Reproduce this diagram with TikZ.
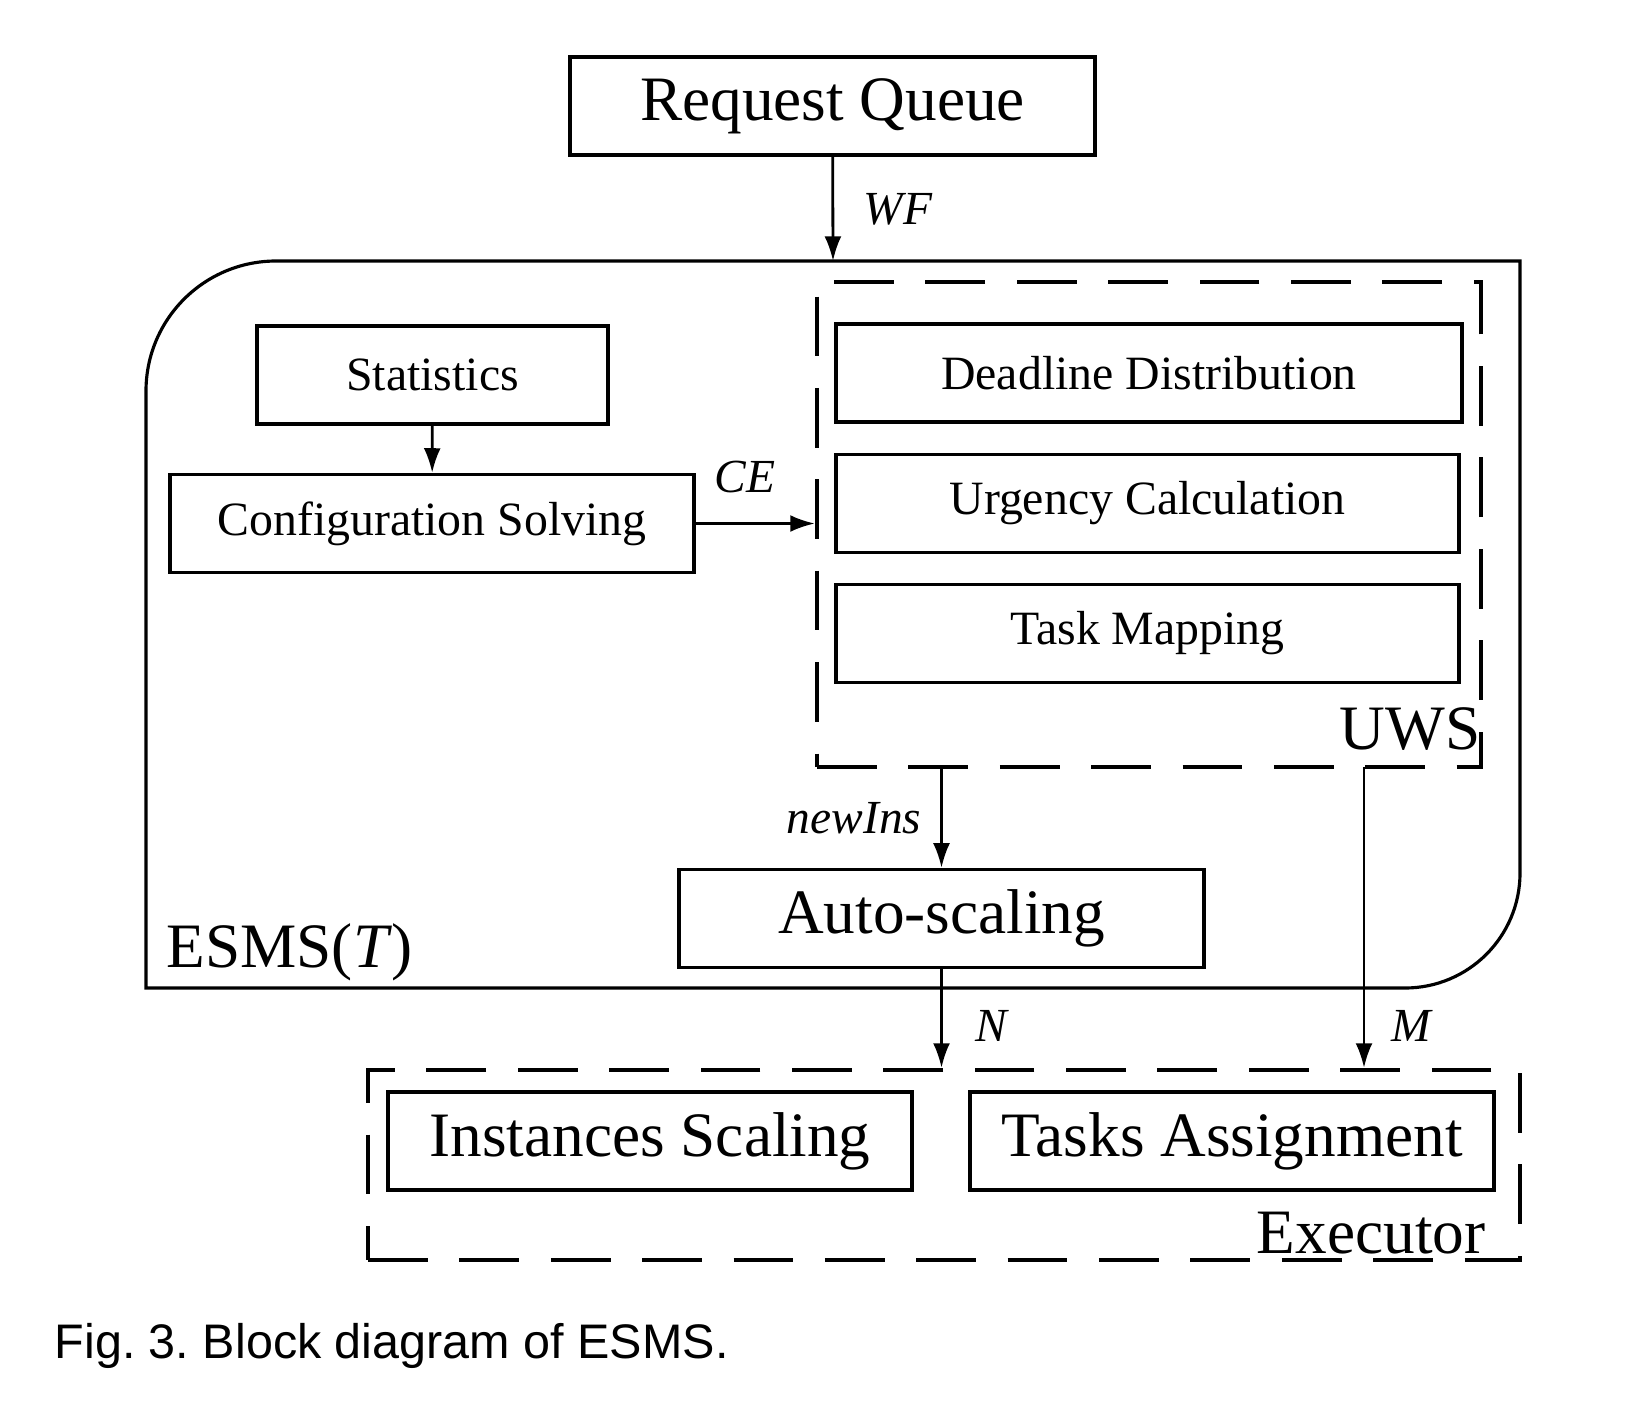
\documentclass[tikz,border=0pt]{standalone}
\usepackage{fontspec}
\setmainfont{Liberation Serif}
\newfontfamily\captionfont{Liberation Sans}
\usetikzlibrary{arrows.meta, positioning}

\tikzset{
  block/.style={draw, line width=0.95pt, inner sep=0pt, minimum height=0.98cm, font=\fontsize{13.6}{16}\selectfont},
  bigblock/.style={block, font=\fontsize{18}{22}\selectfont},
  group/.style={draw, line width=1.2pt, dash pattern=on 17pt off 9pt, inner sep=0pt},
  grouplabel/.style={font=\fontsize{18}{22}\selectfont, inner sep=0pt},
  flow/.style={-{Latex[length=7pt,width=4.8pt]}, line width=0.8pt},
  sig/.style={font=\fontsize{13.5}{16}\selectfont\itshape},
}

\begin{document}
\begin{tikzpicture}
  \useasboundingbox (0,0) rectangle (16.26,-14);
  % ESMS outline
  \draw[line width=0.9pt] (1.46,-9.88) -- (1.46,-3.91) arc (180:90:1.30) -- (15.20,-2.61)
    -- (15.20,-8.73) arc (0:-90:1.15) -- cycle;
  \coordinate (esmstop) at (8.33,-2.61);
  \node[grouplabel, anchor=base west] (esms) at (1.66,-9.67) {ESMS(\textit{T})};

  \node[bigblock, minimum width=5.25cm] (queue) at (8.325,-1.06) {Request Queue};
  \node[block, minimum width=3.51cm] (stats) at (4.325,-3.75) {Statistics};
  \node[block, minimum width=5.24cm] (config) at (4.32,-5.235) {Configuration Solving};

  % UWS
  \node[group, minimum width=6.64cm, minimum height=4.85cm] (uws) at (11.49,-5.245) {};
  \node[block, minimum width=6.26cm] (deadline) at (11.49,-3.73) {Deadline Distribution};
  \node[block, minimum width=6.23cm] (urgency) at (11.475,-5.035) {Urgency Calculation};
  \node[block, minimum width=6.23cm] (mapping) at (11.475,-6.335) {Task Mapping};
  \node[grouplabel, anchor=base east] (uwslabel) at (14.81,-7.49) {UWS};

  \node[bigblock, minimum width=5.25cm] (autoscale) at (9.415,-9.185) {Auto-scaling};

  % Executor
  \node[group, minimum width=11.52cm, minimum height=1.90cm] (executor) at (9.44,-11.65) {};
  \node[bigblock, minimum width=5.24cm] (instscale) at (6.50,-11.41) {Instances Scaling};
  \node[bigblock, minimum width=5.24cm] (taskassign) at (12.32,-11.41) {Tasks Assignment};
  \node[grouplabel, anchor=base east] (execlabel) at (14.86,-12.53) {Executor};

  \draw[flow] (queue) -- node[sig, right, xshift=5pt] {WF} (esmstop);
  \draw[flow] (stats) -- (config);
  \draw[flow] (config.east) -- node[sig, above, yshift=5pt, xshift=-3pt] {CE} (config.east -| uws.west);
  \draw[flow] (autoscale.north |- uws.south) -- node[sig, left, xshift=-2pt] {newIns} (autoscale);
  \draw[flow] (autoscale) -- node[sig, right, xshift=6pt, yshift=-2pt] {N} (autoscale.south |- executor.north);
  \coordinate (mstart) at (13.64,-7.67);
  \draw[flow] (mstart) -- node[sig, right, pos=0.86, xshift=4pt] {M} (mstart |- executor.north);

  \node[font=\captionfont\fontsize{13.8}{16}\selectfont\frenchspacing, anchor=west, inner sep=0pt] (caption) at (0.54,-13.46) {Fig. 3. Block diagram of ESMS.};
\end{tikzpicture}
\end{document}
